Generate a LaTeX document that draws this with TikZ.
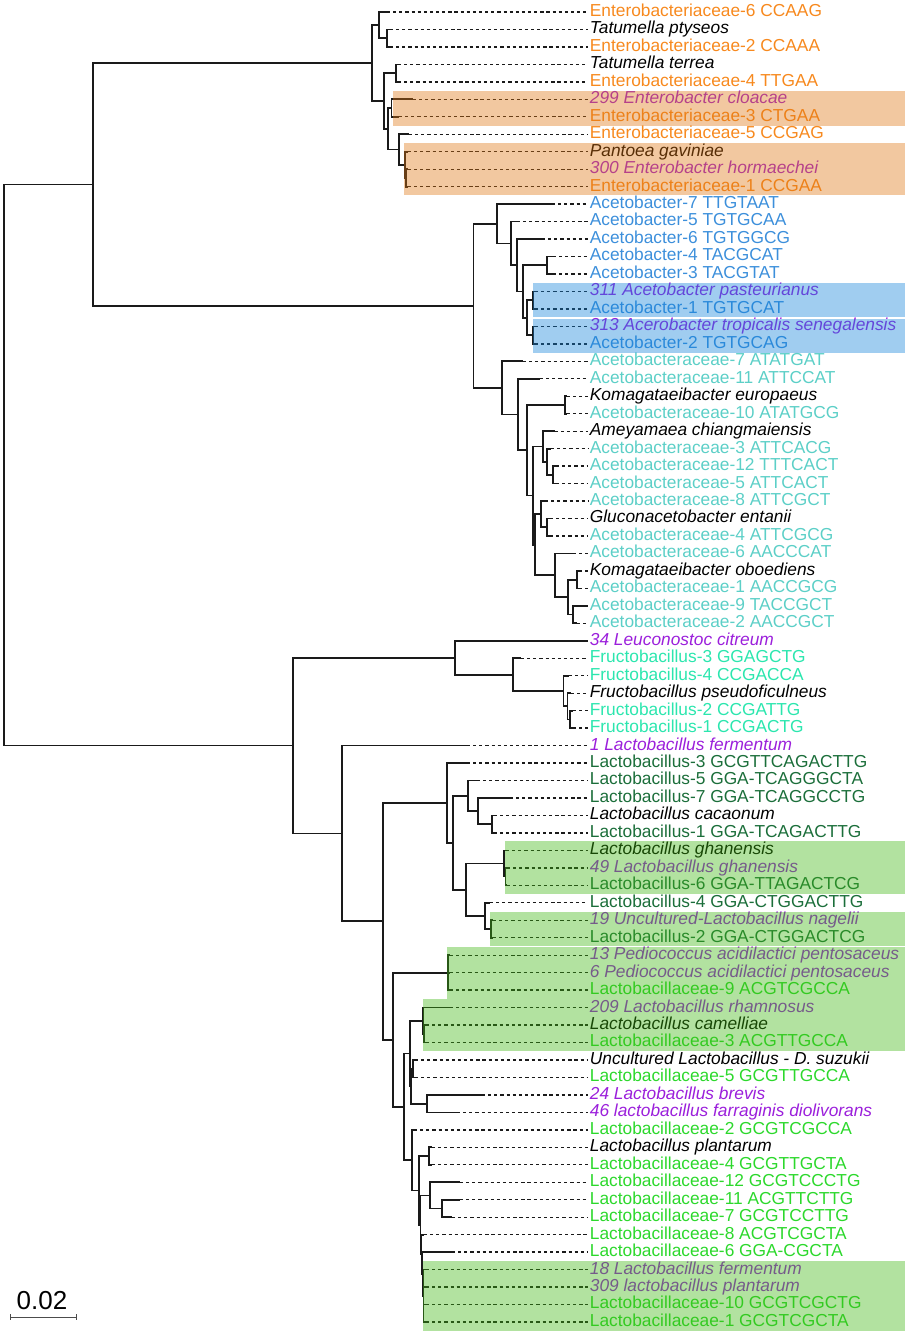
\documentclass[tikz,border=0pt]{standalone}
\usepackage{fontspec}
\setmainfont{Liberation Sans}
\usetikzlibrary{arrows.meta}
\definecolor{treeline}{HTML}{1A1A1A}
\definecolor{entorange}{HTML}{F7891E}
\definecolor{isopurple}{HTML}{9B1FDB}
\definecolor{acbblue}{HTML}{3C8FDB}
\definecolor{acfturq}{HTML}{5CCFC7}
\definecolor{fruaqua}{HTML}{2BE6AE}
\definecolor{labdark}{HTML}{1B6E3A}
\definecolor{lcfgreen}{HTML}{2CD82C}
\definecolor{boxorange}{HTML}{DE7511}
\definecolor{boxblue}{HTML}{1182D9}
\definecolor{boxgreen}{HTML}{3EB611}
\newcommand\leaffont{\fontsize{13pt}{15pt}\selectfont}
\tikzset{
  branch/.style={line width=1.3pt, draw=treeline},
  leafdash/.style={line width=1pt, draw=treeline, dash pattern=on 2.4pt off 2.2pt},
  leaflab/.style={anchor=west, inner xsep=1.2pt, inner ysep=0pt, text height=9.3pt, text depth=2.7pt},
  sp/.style={font=\leaffont\itshape, text=black},
  iso/.style={font=\leaffont\itshape, text=isopurple},
  entc/.style={font=\leaffont, text=entorange},
  acb/.style={font=\leaffont, text=acbblue},
  acf/.style={font=\leaffont, text=acfturq},
  fru/.style={font=\leaffont, text=fruaqua},
  lab/.style={font=\leaffont, text=labdark},
  lcf/.style={font=\leaffont, text=lcfgreen},
  hlbox/.style={fill=#1, fill opacity=0.4, draw=none}
}

\begin{document}
\begin{tikzpicture}[x=0.75pt, y=-13.1pt]
        \useasboundingbox (0,0.313) rectangle (912,76.973);
        % Internal nodes (x in px, y in rows)
        \coordinate (root) at (4,26.936);
        \coordinate (A) at (93,10.873);
        \coordinate (B) at (293,42.9995);
        % Enterobacteriaceae
        \coordinate (E0) at (372,3.9219);
        \coordinate (E1) at (379,1.75);
        \coordinate (E2) at (387,2.5);
        \coordinate (E3) at (384,6.0938);
        \coordinate (E4) at (396,4.5);
        \coordinate (E5) at (388,7.6875);
        \coordinate (E6) at (391.5,6.5);
        \coordinate (E7) at (399,8.875);
        \coordinate (E8) at (405,9.75);
        \coordinate (E9) at (406,10.5);
        % Acetobacter
        \coordinate (C0) at (473.5,17.8242);
        \coordinate (C1) at (497.3,13.125);
        \coordinate (C2) at (510.7,14.25);
        \coordinate (C3) at (516.7,15.5);
        \coordinate (C4) at (522.7,17);
        \coordinate (C5) at (546.7,15.5);
        \coordinate (C6) at (526.7,18.5);
        \coordinate (C7) at (532.7,17.5);
        \coordinate (C8) at (532.7,19.5);
        % Acetobacteraceae
        \coordinate (D0) at (502.3,22.5234);
        \coordinate (D1) at (518.3,24.0469);
        \coordinate (D2) at (526.7,26.0938);
        \coordinate (D3) at (565,23.5);
        \coordinate (D4a) at (532.7,28.6875);
        \coordinate (D4b) at (535,31.5);
        \coordinate (D5) at (543.3,25.875);
        \coordinate (D6) at (547.3,26.75);
        \coordinate (D7) at (553.3,27.5);
        \coordinate (D8) at (541,29.75);
        \coordinate (D9) at (547.3,30.5);
        \coordinate (D10) at (555,33.25);
        \coordinate (D11) at (567.7,34.5);
        \coordinate (D12) at (576.7,33.5);
        \coordinate (D13) at (573.3,35.5);
        % Leuconostoc / Fructobacillus
        \coordinate (L0) at (455,37.9688);
        \coordinate (F0) at (513,38.9375);
        \coordinate (F1) at (563.5,39.875);
        \coordinate (F2) at (567.5,40.75);
        \coordinate (F3) at (570,41.5);
        % Lactobacillus
        \coordinate (G0) at (341.7,48.0303);
        \coordinate (G1) at (383.3,53.0605);
        \coordinate (G2) at (446.7,46.2813);
        \coordinate (G3) at (453.3,48.5625);
        \coordinate (G4) at (468.3,45.875);
        \coordinate (G5) at (478.3,46.75);
        \coordinate (G6) at (491.7,47.5);
        \coordinate (G7) at (466,51.25);
        \coordinate (G8) at (504,49.75);
        \coordinate (G8b) at (505.5,50.5);
        \coordinate (G9) at (485,52.75);
        \coordinate (G10) at (491,53.5);
        % Lactobacillaceae
        \coordinate (H0) at (393.3,59.8398);
        \coordinate (H1) at (448.3,56);
        \coordinate (H2) at (404,63.6797);
        \coordinate (H3) at (410,60.625);
        \coordinate (H4) at (422.7,58.75);
        \coordinate (H4b) at (424,59.5);
        \coordinate (H5) at (413,61.5);
        \coordinate (H6) at (426.7,63.5);
        \coordinate (H7) at (411,62.5);
        \coordinate (H8) at (411.7,66.7344);
        \coordinate (H9) at (419.3,68.4688);
        \coordinate (H10) at (429.3,66.5);
        \coordinate (H11) at (430,68.75);
        \coordinate (H12) at (441.7,69.5);
        \coordinate (H13) at (422.5,73.25);
        \coordinate (H14) at (423.5,74.5);
        \coordinate (H15) at (421.5,72.125);
        \coordinate (H17) at (420.5,70.4375);
        % Inner branches
        \foreach \a/\b in {root/A, root/B, A/E0, A/C0,
            E0/E1, E0/E3, E1/E2, E3/E4, E3/E5, E5/E6, E5/E7, E7/E8, E8/E9,
            C0/C1, C0/D0, C1/C2, C2/C3, C3/C4, C4/C5, C4/C6, C6/C7, C6/C8,
            D0/D1, D1/D2, D2/D3, D2/D4a, D4a/D5, D4a/D4b, D5/D6, D6/D7,
            D4b/D8, D4b/D10, D8/D9, D10/D11, D11/D12, D11/D13,
            B/L0, B/G0, L0/F0, F0/F1, F1/F2, F2/F3,
            G0/G1, G1/G2, G1/H0, G2/G3, G3/G4, G3/G7, G4/G5, G5/G6,
            G7/G8, G7/G9, G8/G8b, G9/G10,
            H0/H1, H0/H2, H2/H3, H2/H8, H3/H4, H3/H7, H4/H4b, H7/H5, H7/H6,
            H8/H9, H9/H10, H9/H17, H17/H11, H17/H15, H11/H12, H15/H13, H13/H14} {
          \draw[branch] (\a) |- (\b);
        }
        % Leaves: row/parent/tip/style/label
        \foreach \r/\p/\t/\s/\txt in {
            1/E1/387/entc/Enterobacteriaceae-6 CCAAG,
            2/E2/390/sp/Tatumella ptyseos,
            3/E2/390/entc/Enterobacteriaceae-2 CCAAA,
            4/E4/398/sp/Tatumella terrea,
            5/E4/398/entc/Enterobacteriaceae-4 TTGAA,
            6/E6/413/iso/299 Enterobacter cloacae,
            7/E6/399/entc/Enterobacteriaceae-3 CTGAA,
            8/E7/409/entc/Enterobacteriaceae-5 CCGAG,
            9/E8/408/sp/Pantoea gaviniae,
            10/E9/408/iso/300 Enterobacter hormaechei,
            11/E9/408/entc/Enterobacteriaceae-1 CCGAA,
            12/C1/552/acb/Acetobacter-7 TTGTAAT,
            13/C2/517/acb/Acetobacter-5 TGTGCAA,
            14/C3/542/acb/Acetobacter-6 TGTGGCG,
            15/C5/553/acb/Acetobacter-4 TACGCAT,
            16/C5/553/acb/Acetobacter-3 TACGTAT,
            17/C7/535/iso/311 Acetobacter pasteurianus,
            18/C7/535/acb/Acetobacter-1 TGTGCAT,
            19/C8/535/iso/313 Acerobacter tropicalis senegalensis,
            20/C8/535/acb/Acetobacter-2 TGTGCAG,
            21/D0/523/acf/Acetobacteraceae-7 ATATGAT,
            22/D1/540/acf/Acetobacteraceae-11 ATTCCAT,
            23/D3/567/sp/Komagataeibacter europaeus,
            24/D3/567/acf/Acetobacteraceae-10 ATATGCG,
            25/D5/555/sp/Ameyamaea chiangmaiensis,
            26/D6/551/acf/Acetobacteraceae-3 ATTCACG,
            27/D7/556/acf/Acetobacteraceae-12 TTTCACT,
            28/D7/556/acf/Acetobacteraceae-5 ATTCACT,
            29/D8/545/acf/Acetobacteraceae-8 ATTCGCT,
            30/D9/550/sp/Gluconacetobacter entanii,
            31/D9/550/acf/Acetobacteraceae-4 ATTCGCG,
            32/D10/573/acf/Acetobacteraceae-6 AACCCAT,
            33/D12/579/sp/Komagataeibacter oboediens,
            34/D12/579/acf/Acetobacteraceae-1 AACCGCG,
            35/D13/588/acf/Acetobacteraceae-9 TACCGCT,
            36/D13/577/acf/Acetobacteraceae-2 AACCGCT,
            37/L0/588/iso/34 Leuconostoc citreum,
            38/F0/521/fru/Fructobacillus-3 GGAGCTG,
            39/F1/569/fru/Fructobacillus-4 CCGACCA,
            40/F2/571/sp/Fructobacillus pseudoficulneus,
            41/F3/573/fru/Fructobacillus-2 CCGATTG,
            42/F3/573/fru/Fructobacillus-1 CCGACTG,
            43/G0/467/iso/1 Lactobacillus fermentum,
            44/G2/467/lab/Lactobacillus-3 GCGTTCAGACTTG,
            45/G4/477/lab/Lactobacillus-5 GGA-TCAGGGCTA,
            46/G5/510/lab/Lactobacillus-7 GGA-TCAGGCCTG,
            47/G6/494/sp/Lactobacillus cacaonum,
            48/G6/494/lab/Lactobacillus-1 GGA-TCAGACTTG,
            49/G8/506/sp/Lactobacillus ghanensis,
            50/G8b/507/iso/49 Lactobacillus ghanensis,
            51/G8b/507/lab/Lactobacillus-6 GGA-TTAGACTCG,
            52/G9/490/lab/Lactobacillus-4 GGA-CTGGACTTG,
            53/G10/493/iso/19 Uncultured-Lactobacillus nagelii,
            54/G10/493/lab/Lactobacillus-2 GGA-CTGGACTCG,
            55/H1/450/iso/13 Pediococcus acidilactici pentosaceus,
            56/H1/450/iso/6 Pediococcus acidilactici pentosaceus,
            57/H1/450/lcf/Lactobacillaceae-9 ACGTCGCCA,
            58/H4/450/iso/209 Lactobacillus rhamnosus,
            59/H4b/426/sp/Lactobacillus camelliae,
            60/H4b/426/lcf/Lactobacillaceae-3 ACGTTGCCA,
            61/H5/415/sp/Uncultured Lactobacillus - D. suzukii,
            62/H5/415/lcf/Lactobacillaceae-5 GCGTTGCCA,
            63/H6/482/iso/24 Lactobacillus brevis,
            64/H6/457/iso/46 lactobacillus farraginis diolivorans,
            65/H8/414/lcf/Lactobacillaceae-2 GCGTCGCCA,
            66/H10/432/sp/Lactobacillus plantarum,
            67/H10/432/lcf/Lactobacillaceae-4 GCGTTGCTA,
            68/H11/460/lcf/Lactobacillaceae-12 GCGTCCCTG,
            69/H12/460/lcf/Lactobacillaceae-11 ACGTTCTTG,
            70/H12/452/lcf/Lactobacillaceae-7 GCGTCCTTG,
            71/H15/424/lcf/Lactobacillaceae-8 ACGTCGCTA,
            72/H13/452/lcf/Lactobacillaceae-6 GGA-CGCTA,
            73/H14/426/iso/18 Lactobacillus fermentum,
            74/H14/426/iso/309 lactobacillus plantarum,
            75/H14/426/lcf/Lactobacillaceae-10 GCGTCGCTG,
            76/H14/426/lcf/Lactobacillaceae-1 GCGTCGCTA} {
          \coordinate (t\r) at (\t,\r);
          \draw[branch] (\p) |- (t\r);
          \node[leaflab, \s] (l\r) at (588,\r) {\txt};
          \draw[leafdash] (t\r) -- (l\r.west);
        }
        % Highlighted clades
        \fill[hlbox=boxorange] (393,5.5) rectangle (905,7.5);
        \fill[hlbox=boxorange] (404,8.5) rectangle (905,11.5);
        \fill[hlbox=boxblue] (533,16.5) rectangle (905,18.45);
        \fill[hlbox=boxblue] (533,18.55) rectangle (905,20.5);
        \fill[hlbox=boxgreen] (505,48.45) rectangle (905,51.5);
        \fill[hlbox=boxgreen] (490,52.55) rectangle (905,54.5);
        \fill[hlbox=boxgreen] (447,54.55) rectangle (905,57.5);
        \fill[hlbox=boxgreen] (423,57.5) rectangle (905,60.5);
        \fill[hlbox=boxgreen] (423,72.5) rectangle (905,76.5);
        % Scale bar
        \coordinate (sbl) at (10,75.72);
        \coordinate (sbr) at (76.7,75.72);
        \draw[line width=0.9pt, draw=black!70, {Bar[width=4pt]}-{Bar[width=4pt]}] (sbl) -- (sbr);
        \node[anchor=base, font=\fontsize{19.5pt}{22pt}\selectfont] (sclab) at (42,75.31) {0.02};
\end{tikzpicture}
\end{document}
